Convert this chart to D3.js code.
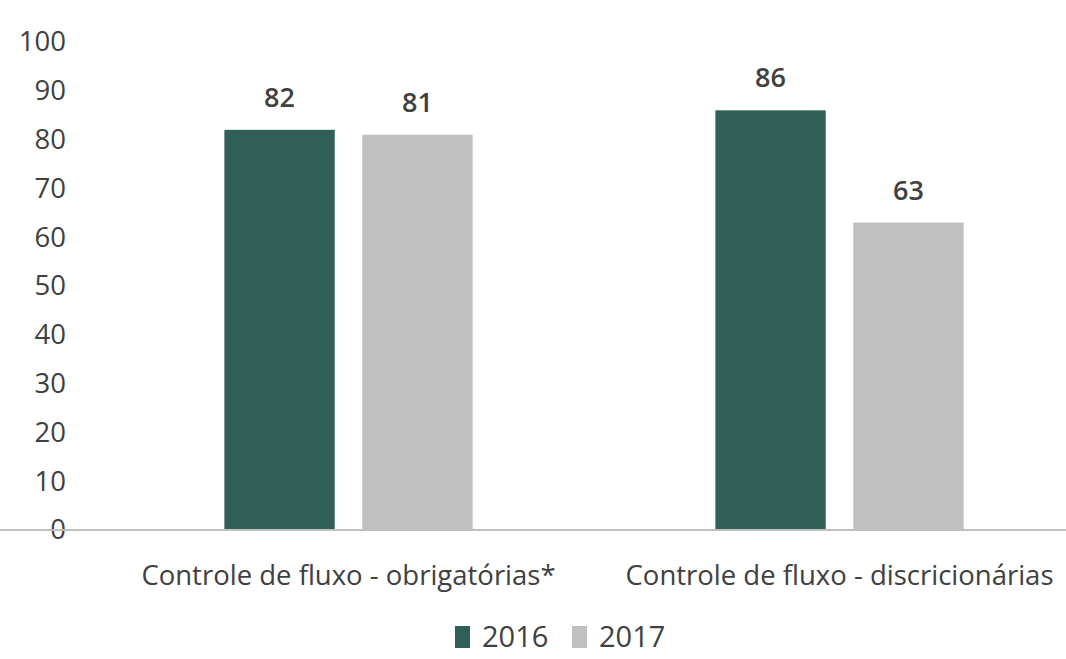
<!DOCTYPE html>
<html><head><meta charset="utf-8">
<script src="https://cdn.jsdelivr.net/npm/d3@7"></script>
<style>html,body{margin:0;padding:0;background:#fff;}svg{display:block;}</style>
</head><body>
<svg id="chart" width="1066" height="659"></svg>
<script>
const categories = ["Controle de fluxo - obrigatórias*", "Controle de fluxo - discricionárias"];
const seriesNames = ["2016", "2017"];
const values2016 = [82, 86];
const values2017 = [81, 63];
const yTicks = [0, 10, 20, 30, 40, 50, 60, 70, 80, 90, 100];
const colors = {"2016": "#2f5f56", "2017": "#c0c0c0"};

const svg = d3.select("#chart");
const font = "'Open Sans', sans-serif";
const textColor = "#404040";

const y = d3.scaleLinear().domain([0, 100]).range([530, 42]);
const x0 = d3.scaleBand().domain(categories).range([103, 1085]).paddingInner(0).paddingOuter(0);
const x1 = d3.scaleBand().domain(seriesNames).range([0, x0.bandwidth()]).paddingInner(0.2).paddingOuter(0.88);

const data = categories.map((c, i) => ({cat: c, vals: [
  {s: "2016", v: values2016[i]}, {s: "2017", v: values2017[i]}]}));

// y axis labels
const yAxis = d3.axisLeft(y).tickValues(yTicks).tickSize(0).tickPadding(0);
const gy = svg.append("g").attr("transform", "translate(66,0)").call(yAxis);
gy.select(".domain").remove();
gy.selectAll("text").attr("font-family", font).attr("font-size", 27.5).attr("font-weight", 500).attr("fill", textColor);

// bars
const g = svg.append("g");
const groups = g.selectAll("g.grp").data(data).join("g")
  .attr("transform", d => `translate(${x0(d.cat)},0)`);
groups.selectAll("rect").data(d => d.vals).join("rect")
  .attr("x", d => x1(d.s))
  .attr("width", x1.bandwidth())
  .attr("y", d => y(d.v))
  .attr("height", d => y(0) - y(d.v))
  .attr("fill", d => colors[d.s]);
groups.selectAll("text.val").data(d => d.vals).join("text")
  .attr("class", "val")
  .attr("x", d => x1(d.s) + x1.bandwidth() / 2)
  .attr("y", d => y(d.v) - 23)
  .attr("text-anchor", "middle")
  .attr("font-family", font).attr("font-size", 27).attr("font-weight", 600)
  .attr("fill", textColor)
  .text(d => d.v);

// x axis
const xAxis = d3.axisBottom(x0).tickSize(0).tickPadding(0);
const gx = svg.append("g").attr("transform", `translate(0,${y(0)})`).call(xAxis);
gx.select(".domain").attr("stroke", "#bfbfbf").attr("stroke-width", 2)
  .attr("d", "M0,0H1066");
gx.selectAll("text").attr("font-family", font).attr("font-size", 27.5)
  .attr("fill", textColor).attr("dy", 0).attr("y", 55);

// legend
const legend = svg.append("g").attr("transform", "translate(455,637)");
const items = [{s: "2016", x: 0}, {s: "2017", x: 117}];
items.forEach(it => {
  legend.append("rect").attr("x", it.x).attr("y", -11).attr("width", 15).attr("height", 22).attr("fill", colors[it.s]);
  legend.append("text").attr("x", it.x + 27).attr("y", 10).attr("font-family", font)
    .attr("font-size", 29).attr("fill", textColor).text(it.s);
});
</script>
</body></html>
